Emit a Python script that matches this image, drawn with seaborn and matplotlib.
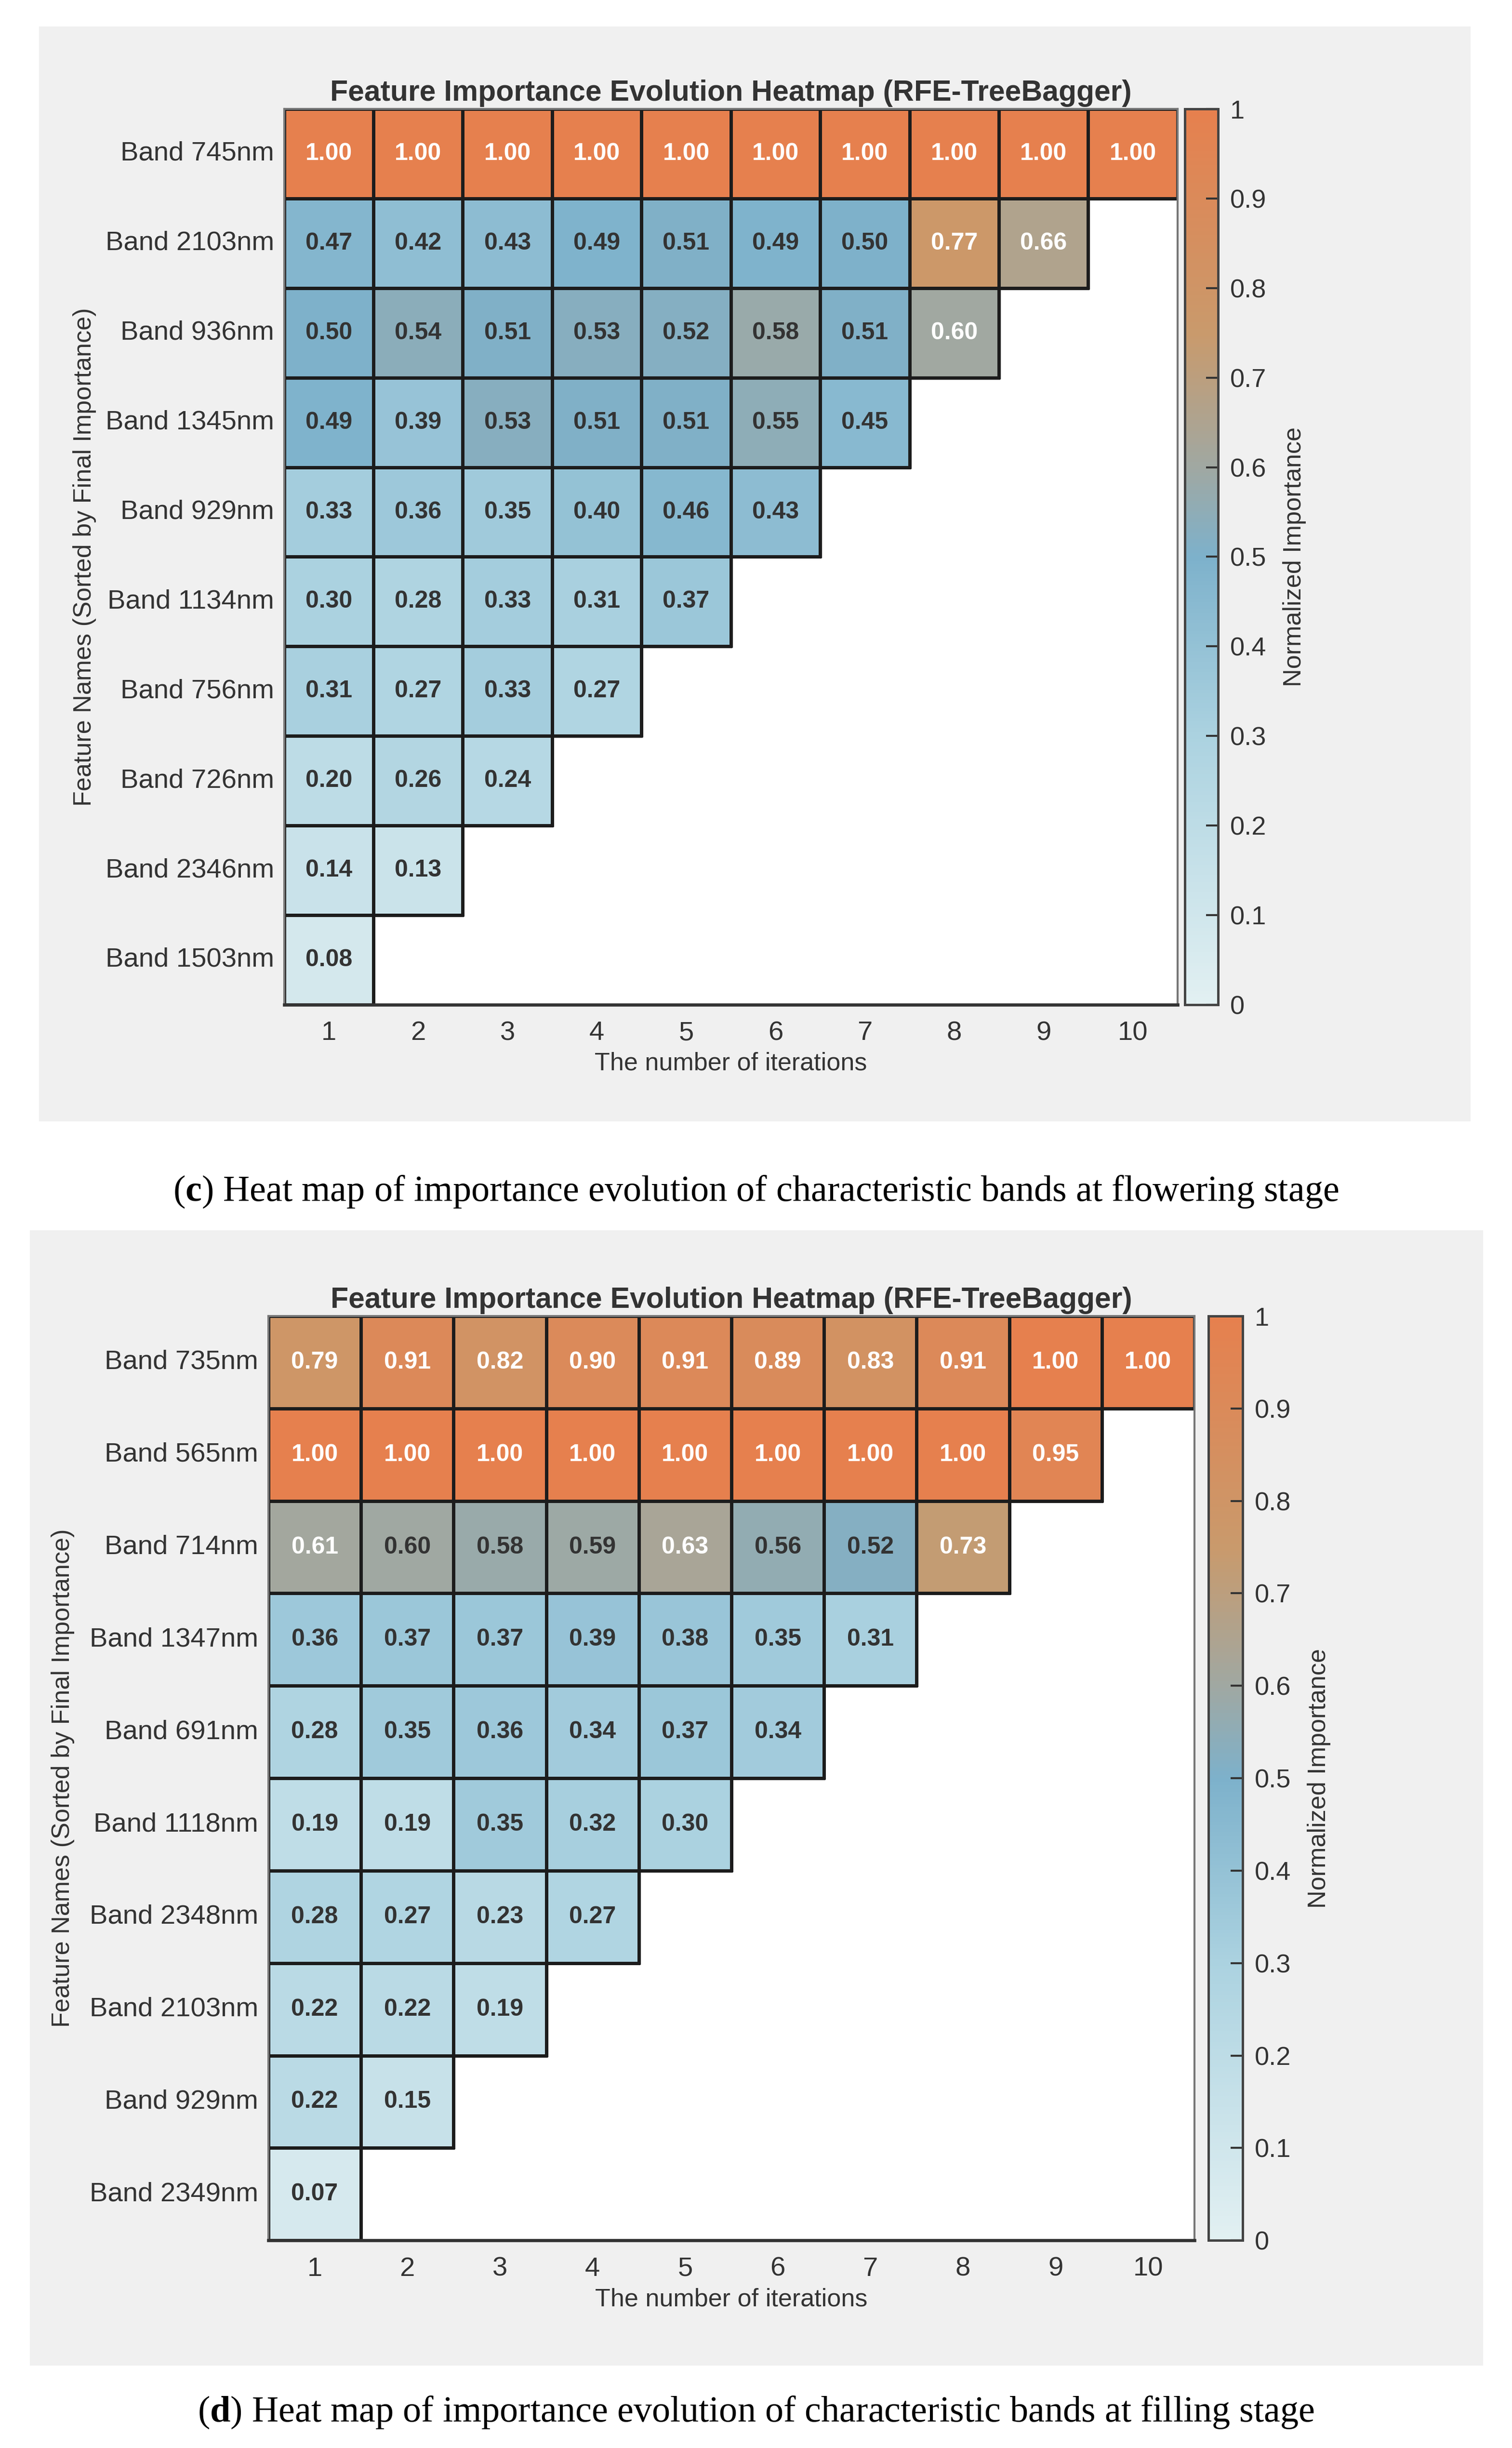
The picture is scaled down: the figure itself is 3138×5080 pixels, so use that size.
import numpy as np
import pandas as pd
import matplotlib
matplotlib.use("Agg")
import matplotlib.pyplot as plt
import seaborn as sns
from matplotlib.colors import LinearSegmentedColormap, to_rgba
from matplotlib.patches import Rectangle

plt.rcParams["font.family"] = ["Liberation Sans", "DejaVu Sans"]
plt.rcParams["mathtext.fontset"] = "custom"
plt.rcParams["mathtext.bf"] = "Liberation Serif:bold"
plt.rcParams["mathtext.rm"] = "Liberation Serif"

iterations = list(range(1, 11))

# flowering stage (c)
bands_c = ["Band 745nm", "Band 2103nm", "Band 936nm", "Band 1345nm", "Band 929nm",
           "Band 1134nm", "Band 756nm", "Band 726nm", "Band 2346nm", "Band 1503nm"]
vals_c = [
    [1.00, 1.00, 1.00, 1.00, 1.00, 1.00, 1.00, 1.00, 1.00, 1.00],
    [0.47, 0.42, 0.43, 0.49, 0.51, 0.49, 0.50, 0.77, 0.66],
    [0.50, 0.54, 0.51, 0.53, 0.52, 0.58, 0.51, 0.602],
    [0.49, 0.39, 0.53, 0.51, 0.51, 0.55, 0.45],
    [0.33, 0.36, 0.35, 0.40, 0.46, 0.43],
    [0.30, 0.28, 0.33, 0.31, 0.37],
    [0.31, 0.27, 0.33, 0.27],
    [0.20, 0.26, 0.24],
    [0.14, 0.13],
    [0.08],
]

# filling stage (d)
bands_d = ["Band 735nm", "Band 565nm", "Band 714nm", "Band 1347nm", "Band 691nm",
           "Band 1118nm", "Band 2348nm", "Band 2103nm", "Band 929nm", "Band 2349nm"]
vals_d = [
    [0.79, 0.91, 0.82, 0.90, 0.91, 0.89, 0.83, 0.91, 1.00, 1.00],
    [1.00, 1.00, 1.00, 1.00, 1.00, 1.00, 1.00, 1.00, 0.95],
    [0.61, 0.598, 0.58, 0.59, 0.63, 0.56, 0.52, 0.73],
    [0.36, 0.37, 0.37, 0.39, 0.38, 0.35, 0.31],
    [0.28, 0.35, 0.36, 0.34, 0.37, 0.34],
    [0.19, 0.19, 0.35, 0.32, 0.30],
    [0.28, 0.27, 0.23, 0.27],
    [0.22, 0.22, 0.19],
    [0.22, 0.15],
    [0.07],
]

captions = [
    r"($\mathbf{c}$) Heat map of importance evolution of characteristic bands at flowering stage",
    r"($\mathbf{d}$) Heat map of importance evolution of characteristic bands at filling stage",
]

cmap = LinearSegmentedColormap.from_list(
    "imp", [(0.0, "#e2f0f2"), (0.3, "#abd2e0"), (0.5, "#7db1cb"),
            (0.6, "#a0a8a2"), (0.75, "#c99a6c"), (1.0, "#e6804e")])

TXT = "#333333"
EDGE = "#1c1c1c"


def to_frame(bands, vals):
    rows = [v + [np.nan] * (len(iterations) - len(v)) for v in vals]
    return pd.DataFrame(rows, index=bands, columns=iterations)


def draw_panel(fig, df, ax_rect, cax_rect, bg_rect, caption, cap_y, ylab_x):
    fig.patches.append(Rectangle(bg_rect[:2], bg_rect[2], bg_rect[3],
                                 transform=fig.transFigure, facecolor="#f0f0f0",
                                 edgecolor="none", zorder=-10))
    ax = fig.add_axes(ax_rect)
    cax = fig.add_axes(cax_rect)
    ax.set_facecolor("white")
    sns.heatmap(df, ax=ax, cmap=cmap, vmin=0, vmax=1, mask=df.isna(),
                annot=True, fmt=".2f",
                annot_kws=dict(fontsize=12, fontweight="bold"),
                linewidths=1.6, linecolor=EDGE, cbar_ax=cax,
                cbar_kws=dict(ticks=np.arange(0, 1.01, 0.1)))
    # no borders on the empty (masked) cells
    mesh = ax.collections[0]
    present = ~df.isna().values.ravel()
    mesh.set_edgecolors([to_rgba(EDGE) if p else (0, 0, 0, 0) for p in present])

    flat = [v for v in df.values.ravel() if not np.isnan(v)]
    for t, v in zip(ax.texts, flat):
        t.set_color("white" if v >= 0.6 else TXT)

    ax.set_title("Feature Importance Evolution Heatmap (RFE-TreeBagger)",
                 fontsize=14.6, fontweight="bold", color=TXT, pad=4)
    ax.set_xlabel("The number of iterations", fontsize=12.5, color=TXT, labelpad=3)
    ax.set_ylabel("Feature Names (Sorted by Final Importance)", fontsize=12.5, color=TXT)
    ax.yaxis.set_label_coords(ylab_x, 0.5)
    ax.tick_params(axis="both", length=0, labelsize=13.5, colors=TXT)
    ax.tick_params(axis="x", pad=8)
    ax.tick_params(axis="y", pad=5, rotation=0)
    for s in ax.spines.values():
        s.set_visible(True)
        s.set_color("#777777")
        s.set_linewidth(1.0)
    ax.spines["bottom"].set_color("#333333")
    ax.spines["bottom"].set_linewidth(1.6)

    cb = mesh.colorbar
    cb.outline.set_edgecolor("#444444")
    cb.outline.set_linewidth(1.2)
    cb.ax.yaxis.set_major_formatter(plt.FuncFormatter(lambda v, p: f"{v:g}"))
    cb.ax.tick_params(direction="in", length=6, width=1, labelsize=13, colors=TXT, pad=6)
    cb.set_label("Normalized Importance", fontsize=12.5, color=TXT, labelpad=8)

    fig.text(0.5, cap_y, caption, ha="center", va="center", fontsize=18.3,
             family="Liberation Serif", color="black", math_fontfamily="custom")


fig = plt.figure(figsize=(3138 / 300, 5080 / 300), dpi=300, facecolor="white")

draw_panel(fig, to_frame(bands_c, vals_c),
           [0.1879, 0.5896, 0.5909, 0.3659], [0.7836, 0.5896, 0.0220, 0.3659],
           [0.0258, 0.5419, 0.9468, 0.4472], captions[0], 0.5132, -0.21)
draw_panel(fig, to_frame(bands_d, vals_d),
           [0.1775, 0.0848, 0.6125, 0.3776], [0.7992, 0.0848, 0.0227, 0.3776],
           [0.0196, 0.0337, 0.9613, 0.4638], captions[1], 0.0146, -0.209)

fig.savefig("out.png", dpi=300, facecolor="white")
